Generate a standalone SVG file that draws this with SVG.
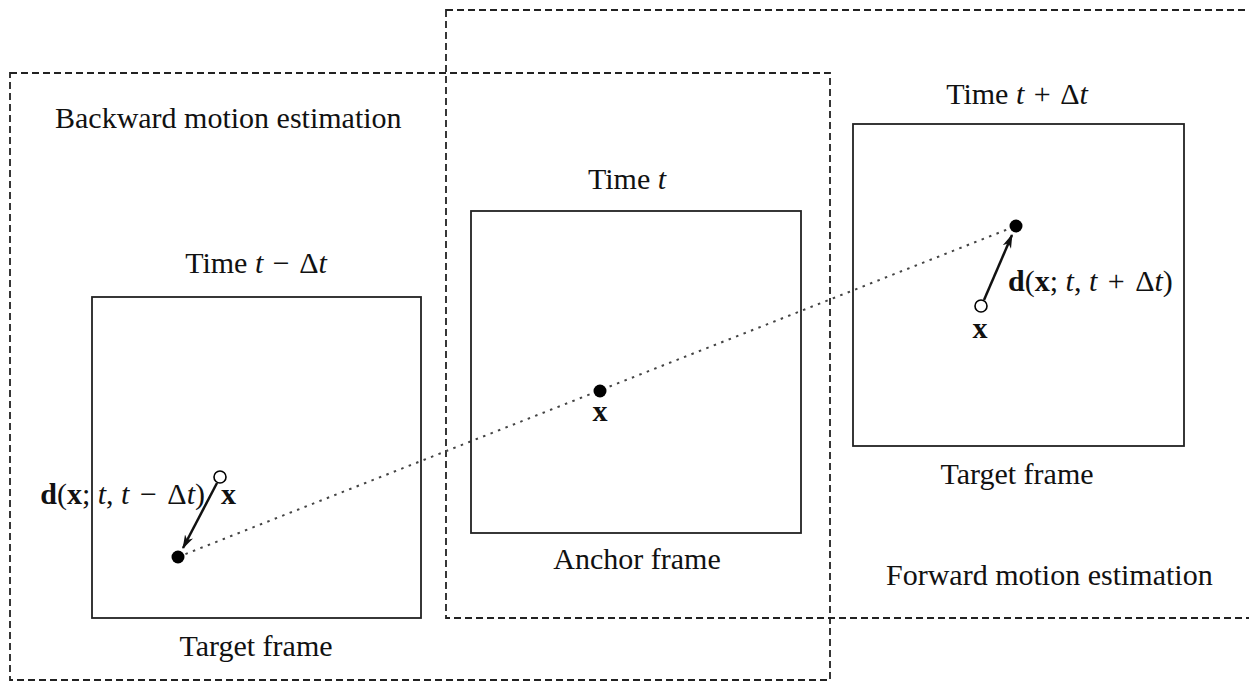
<svg xmlns="http://www.w3.org/2000/svg" width="1249" height="681" viewBox="0 0 1249 681">
<defs>
<style>
text{font-family:"Liberation Serif","Times New Roman",serif;font-size:30px;fill:#111}
.it{font-style:italic}
.b{font-weight:bold}
.region{fill:none;stroke:#222;stroke-width:1.8;stroke-dasharray:7 4}
.frame{fill:none;stroke:#222;stroke-width:1.8}
.dot{fill:#000}
.open{fill:#fff;stroke:#000;stroke-width:1.6}
.vec{stroke:#111;stroke-width:2.5;fill:none}
.traj{stroke:#444;stroke-width:2;stroke-dasharray:2.5 5.5;fill:none}
</style>
<marker id="ah" viewBox="0 0 14 10" refX="13" refY="5" markerWidth="14" markerHeight="10" markerUnits="userSpaceOnUse" orient="auto">
<path d="M0,0.5 L14,5 L0,9.5 L4,5 z" fill="#111"/>
</marker>
</defs>
<g id="backward-region">
<rect class="region" x="10" y="73" width="820" height="607"/>
<text x="55" y="128">Backward motion estimation</text>
</g>
<g id="forward-region">
<rect class="region" x="446" y="10" width="820" height="608"/>
<text x="886" y="585">Forward motion estimation</text>
</g>
<g id="connectors">
<line class="traj" x1="178" y1="557" x2="1016" y2="226"/>
<line class="vec" x1="217" y1="483" x2="183" y2="548" marker-end="url(#ah)"/>
<line class="vec" x1="984" y1="300" x2="1012" y2="235" marker-end="url(#ah)"/>
</g>
<g id="target-left">
<rect class="frame" x="92" y="297" width="329" height="321"/>
<text x="256" y="273" text-anchor="middle">Time <tspan class="it">t</tspan> <tspan dx="2">−</tspan> <tspan dx="2">Δ</tspan><tspan class="it">t</tspan></text>
<text x="256" y="656" text-anchor="middle">Target frame</text>
<circle class="dot" cx="178" cy="557" r="6.5"/>
<circle class="open" cx="220" cy="477" r="6"/>
<text class="b" x="221" y="504">x</text>
<text x="205" y="504" text-anchor="end"><tspan class="b">d</tspan>(<tspan class="b">x</tspan>; <tspan class="it">t</tspan>, <tspan class="it">t</tspan> <tspan dx="3">−</tspan> <tspan dx="3">Δ</tspan><tspan class="it">t</tspan>)</text>
</g>
<g id="anchor">
<rect class="frame" x="471" y="211" width="330" height="322"/>
<text x="627" y="189" text-anchor="middle">Time <tspan class="it">t</tspan></text>
<text x="637" y="569" text-anchor="middle">Anchor frame</text>
<circle class="dot" cx="600" cy="391" r="6.5"/>
<text class="b" x="600" y="421" text-anchor="middle">x</text>
</g>
<g id="target-right">
<rect class="frame" x="853" y="124" width="331" height="322"/>
<text x="1017" y="104" text-anchor="middle">Time <tspan class="it">t</tspan> <tspan dx="2">+</tspan> <tspan dx="2">Δ</tspan><tspan class="it">t</tspan></text>
<text x="1017" y="484" text-anchor="middle">Target frame</text>
<circle class="dot" cx="1016" cy="226" r="6.5"/>
<circle class="open" cx="981" cy="306" r="6"/>
<text class="b" x="980" y="338" text-anchor="middle">x</text>
<text x="1008" y="291"><tspan class="b">d</tspan>(<tspan class="b">x</tspan>; <tspan class="it">t</tspan>, <tspan class="it">t</tspan> <tspan dx="3">+</tspan> <tspan dx="3">Δ</tspan><tspan class="it">t</tspan>)</text>
</g>
</svg>
